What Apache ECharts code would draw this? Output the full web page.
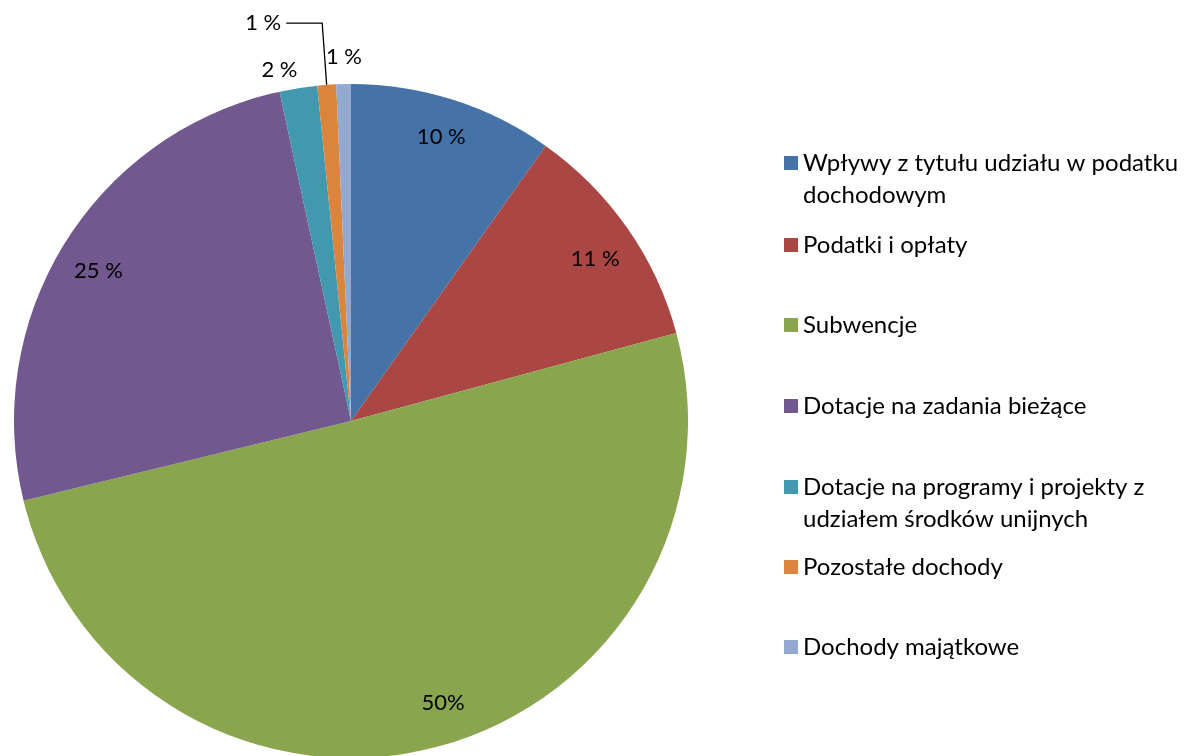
<!DOCTYPE html>
<html lang="pl">
<head>
    <meta charset="UTF-8">
    <title>Dochody</title>
    <style>
        html, body { margin: 0; padding: 0; background: #fff; }
        #main { width: 1191px; height: 756px; }
    </style>
</head>
<body>
<div id="main"></div>
<script src="https://cdn.jsdelivr.net/npm/echarts@6/dist/echarts.min.js"></script>
<script type="text/javascript">
    // dane
    var names = [
        'Wpływy z tytułu udziału w podatku\ndochodowym',
        'Podatki i opłaty',
        'Subwencje',
        'Dotacje na zadania bieżące',
        'Dotacje na programy i projekty z\nudziałem środków unijnych',
        'Pozostałe dochody',
        'Dochody majątkowe'
    ];
    var values = [9.8, 11.0, 50.4, 25.4, 1.8, 0.9, 0.7];
    var labels = ['10 %', '11 %', '50%', '25 %', '2 %', '1 %', '1 %'];
    var colors = ['#4572A7', '#AA4643', '#89A54E', '#71588F', '#4198AF', '#DB843D', '#93A9CF'];

    var FONT = 'Lato';
    var R = 337;
    var center = [351, 421];

    // legenda: srodek pierwszej linii kazdej pozycji
    var legendY = [163, 245, 325, 406, 487, 567, 647];

    var pieData = values.map(function (v, i) {
        return { name: names[i], value: v, itemStyle: { color: colors[i] } };
    });

    // etykiety malych wycinkow sa na zewnatrz
    var outside = {
        4: { length: 18, length2: 0, line: false },
        5: { length: 62, length2: 36, line: true },
        6: { length: 27, length2: 0, line: false }
    };
    // drobne przesuniecia etykiet (jak w Excelu)
    var shift = {
        1: [0, 8],
        2: [18, -7],
        3: [0, 8],
        4: [7, 0],
        6: [24, 0]
    };

    var labelData = values.map(function (v, i) {
        var o = outside[i];
        var item = { name: names[i], value: v };
        if (o) {
            item.label = { position: 'outside' };
            item.labelLine = {
                show: o.line, length: o.length, length2: o.length2,
                lineStyle: { color: '#000', width: 1.3 }
            };
        }
        return item;
    });

    var legends = names.map(function (n, i) {
        var twoLines = n.indexOf('\n') >= 0;
        return {
            data: [n],
            orient: 'vertical',
            left: 784,
            top: twoLines ? legendY[i] - 48 : legendY[i] - 16,
            padding: 0,
            itemWidth: 14,
            itemHeight: 14,
            icon: 'rect',
            selectedMode: false,
            // pusta linia na poczatku, zeby kwadrat stal przy pierwszej linii
            formatter: function (name) {
                return name.indexOf('\n') >= 0 ? ' \n' + name : name;
            },
            textStyle: {
                fontFamily: FONT,
                fontSize: 24,
                color: '#000',
                lineHeight: 32
            }
        };
    });

    var myChart = echarts.init(document.getElementById('main'));
    var option = {
        animation: false,
        backgroundColor: '#fff',
        legend: legends,
        series: [{
            name: 'dochody',
            type: 'pie',
            center: center,
            radius: [0, R],
            startAngle: 90,
            clockwise: true,
            label: { show: false },
            labelLine: { show: false },
            data: pieData
        }, {
            // przezroczysta warstwa tylko dla etykiet
            name: 'etykiety',
            type: 'pie',
            center: center,
            radius: [R * 0.75, R],
            startAngle: 90,
            clockwise: true,
            silent: true,
            avoidLabelOverlap: false,
            itemStyle: { color: 'rgba(0,0,0,0)' },
            label: {
                show: true,
                position: 'inside',
                fontFamily: FONT,
                fontSize: 22,
                color: '#000',
                formatter: function (p) { return labels[p.dataIndex]; }
            },
            labelLayout: function (p) {
                var s = shift[p.dataIndex];
                return s ? { dx: s[0], dy: s[1] } : {};
            },
            data: labelData
        }]
    };
    myChart.setOption(option);
</script>
</body>
</html>
